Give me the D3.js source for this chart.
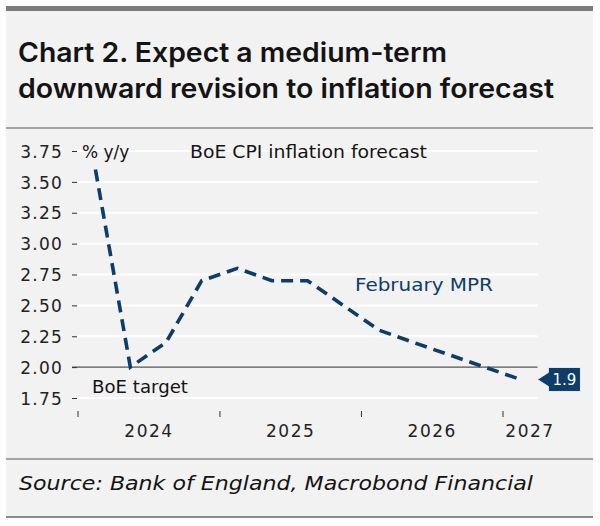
<!DOCTYPE html>
<html>
<head>
<meta charset="utf-8">
<script src="https://cdn.jsdelivr.net/npm/d3@7"></script>
<style>
  body { margin: 0; background: #fff; }
  svg text { font-family: "DejaVu Sans", sans-serif; }
</style>
</head>
<body>
<div id="chart-container"></div>
<script>
// Data (BoE February MPR CPI forecast, quarterly)
const quarters = ["2024Q1", "2024Q2", "2024Q3", "2024Q4", "2025Q1", "2025Q2", "2025Q3",
  "2025Q4", "2026Q1", "2026Q2", "2026Q3", "2026Q4", "2027Q1"];
const forecast = [3.6, 2.0, 2.2, 2.7, 2.8, 2.7, 2.7, 2.5, 2.3, 2.2, 2.1, 2.0, 1.9];
const yTicks = [1.75, 2.00, 2.25, 2.50, 2.75, 3.00, 3.25, 3.50, 3.75];
const xYears = [2024, 2025, 2026, 2027];
const target = 2.0;

const width = 600;
const height = 526;
const navy = "#0d3d68";

// quarter label -> middle of quarter
const parseQuarter = s => new Date(+s.slice(0, 4), (+s.slice(5) - 1) * 3 + 1, 15);
const data = quarters.map((q, i) => ({ date: parseQuarter(q), value: forecast[i] }));

const axisEnd = new Date(2027, 4, 20);
const gridEnd = new Date(2027, 2, 31);

const x = d3.scaleTime()
  .domain([new Date(2024, 0, 1), new Date(2027, 0, 1)])
  .range([78, 503]);

const y = d3.scaleLinear()
  .domain([1.75, 3.75])
  .range([398, 151]);

const svg = d3.select("#chart-container")
  .append("svg")
  .attr("width", width)
  .attr("height", height);

// panel background + rules
svg.append("rect")
  .attr("x", 6).attr("y", 6)
  .attr("width", 587).attr("height", 512)
  .attr("fill", "#f2f2f2");

svg.append("rect")
  .attr("x", 6).attr("y", 6)
  .attr("width", 587).attr("height", 5)
  .attr("fill", "#7b7b7b");

[[128, 1.5], [459, 1.5], [517, 2]].forEach(([ly, w]) => {
  svg.append("line")
    .attr("x1", 6).attr("x2", 593)
    .attr("y1", ly).attr("y2", ly)
    .attr("stroke", "#8a8a8a")
    .attr("stroke-width", w);
});

// title
const title = svg.append("text")
  .style("font-family", "Inter, sans-serif")
  .style("font-size", "27px")
  .style("font-weight", "600")
  .attr("fill", "#141414");
title.append("tspan").attr("x", 18).attr("y", 62)
  .attr("textLength", 429).attr("lengthAdjust", "spacingAndGlyphs")
  .text("Chart 2. Expect a medium-term");
title.append("tspan").attr("x", 18).attr("y", 98)
  .attr("textLength", 536).attr("lengthAdjust", "spacingAndGlyphs")
  .text("downward revision to inflation forecast");

// horizontal gridlines
svg.selectAll(".grid")
  .data(yTicks.filter(d => d !== target))
  .join("line")
  .attr("class", "grid")
  .attr("x1", 78)
  .attr("x2", x(gridEnd))
  .attr("y1", d => y(d))
  .attr("y2", d => y(d))
  .attr("stroke", "#ffffff")
  .attr("stroke-width", 2);

// target line
svg.append("line")
  .attr("x1", 72)
  .attr("x2", x(gridEnd))
  .attr("y1", y(target))
  .attr("y2", y(target))
  .attr("stroke", "#555")
  .attr("stroke-width", 1.3);

// y axis
svg.append("g")
  .attr("transform", "translate(78,0)")
  .call(d3.axisLeft(y)
    .tickValues(yTicks)
    .tickFormat(d3.format(".2f"))
    .tickSize(6)
    .tickPadding(9))
  .call(g => g.select(".domain").remove())
  .call(g => g.selectAll(".tick line").attr("stroke", "#333").attr("x2", -1).attr("x1", -6))
  .call(g => g.selectAll(".tick text")
    .attr("fill", "#222")
    .style("font-size", "17px")
    .style("letter-spacing", "1.2px")
    .attr("dy", "0.36em"));

// x axis: ticks at year starts, labels centred in each year
const xAxis = svg.append("g")
  .attr("transform", "translate(0,411)");
xAxis.selectAll("line")
  .data(xYears)
  .join("line")
  .attr("x1", d => x(new Date(d, 0, 1)))
  .attr("x2", d => x(new Date(d, 0, 1)))
  .attr("y1", 0)
  .attr("y2", 6)
  .attr("stroke", "#333");
xAxis.selectAll("text")
  .data(xYears)
  .join("text")
  .attr("x", d => (x(new Date(d, 0, 1)) + x(d3.min([new Date(d + 1, 0, 1), axisEnd]))) / 2)
  .attr("y", 26)
  .attr("text-anchor", "middle")
  .attr("fill", "#222")
  .style("font-size", "17px")
  .style("letter-spacing", "1.5px")
  .text(d => d);

// forecast line
const line = d3.line()
  .x(d => x(d.date))
  .y(d => y(d.value));

svg.append("path")
  .datum(data)
  .attr("fill", "none")
  .attr("stroke", navy)
  .attr("stroke-width", 3.6)
  .attr("stroke-dasharray", "12,7")
  .attr("d", line);

// last value tag
const last = data[data.length - 1];
const tx = x(last.date) + 17;
const ty = y(last.value);
svg.append("path")
  .attr("d", `M${tx},${ty} L${tx + 11},${ty - 7} L${tx + 11},${ty - 12} L${tx + 43},${ty - 12} L${tx + 43},${ty + 12} L${tx + 11},${ty + 12} L${tx + 11},${ty + 7} Z`)
  .attr("fill", navy)
  .attr("stroke", "#ffffff")
  .attr("stroke-width", 0.8);
svg.append("text")
  .attr("x", tx + 27)
  .attr("y", ty + 5.5)
  .attr("text-anchor", "middle")
  .attr("fill", "#fff")
  .style("font-size", "15px")
  .text(d3.format(".1f")(last.value));

// annotations
svg.append("text")
  .attr("x", 82).attr("y", 158)
  .attr("fill", "#141414")
  .style("font-size", "17px")
  .text("% y/y");

svg.append("text")
  .attr("x", 190).attr("y", 158)
  .attr("fill", "#141414")
  .style("font-size", "17px")
  .attr("textLength", 237).attr("lengthAdjust", "spacingAndGlyphs")
  .text("BoE CPI inflation forecast");

svg.append("text")
  .attr("x", 355).attr("y", 291)
  .attr("fill", navy)
  .style("font-size", "17px")
  .attr("textLength", 138).attr("lengthAdjust", "spacingAndGlyphs")
  .text("February MPR");

svg.append("text")
  .attr("x", 92).attr("y", 393)
  .attr("fill", "#141414")
  .style("font-size", "17px")
  .attr("textLength", 96).attr("lengthAdjust", "spacingAndGlyphs")
  .text("BoE target");

// source
svg.append("text")
  .attr("x", 19).attr("y", 490)
  .attr("fill", "#141414")
  .style("font-size", "19px")
  .style("font-style", "italic")
  .attr("textLength", 514).attr("lengthAdjust", "spacingAndGlyphs")
  .text("Source: Bank of England, Macrobond Financial");
</script>
</body>
</html>
